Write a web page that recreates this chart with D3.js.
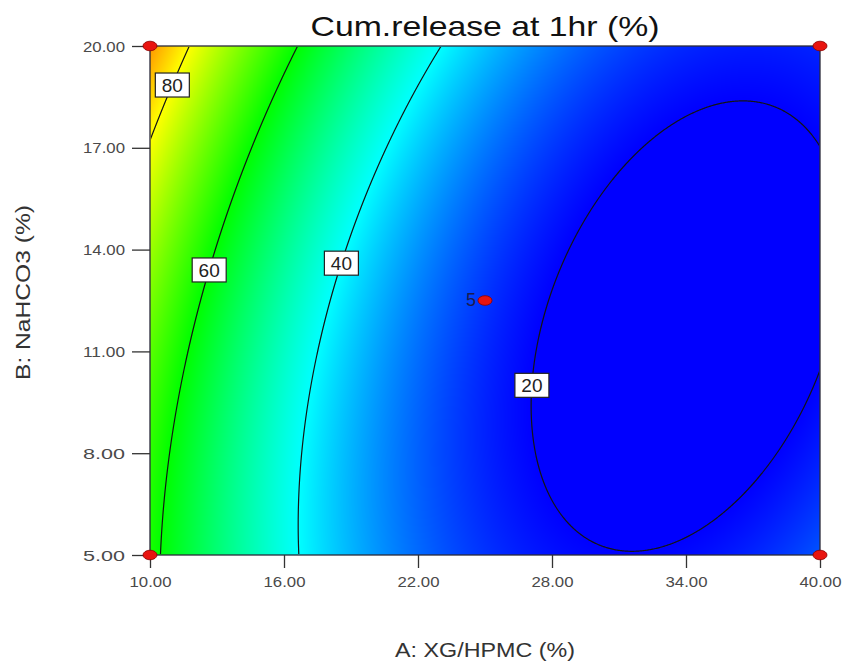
<!DOCTYPE html>
<html>
<head>
<meta charset="utf-8">
<script src="https://cdn.jsdelivr.net/npm/d3@7"></script>
<style>
  html, body { margin: 0; padding: 0; background: #fff; }
  svg { display: block; font-family: "Liberation Sans", Arial, sans-serif; }
</style>
</head>
<body>
<svg id="chart" width="843" height="664"></svg>
<script>
// Fitted quadratic response surface, coded factors (A, B in -1..+1)
const modelTerms = ["Intercept", "A", "B", "AB", "A^2", "B^2"];
const modelCoefficients = [24.05, -25.18, 5.70, -7.56, 20.20, 5.62];

// Factor ranges (actual units)
const factorARange = [10, 40];   // A: XG/HPMC (%)
const factorBRange = [5, 20];    // B: NaHCO3 (%)

// Axis ticks
const xTickValues = [10, 16, 22, 28, 34, 40];
const yTickValues = [5, 8, 11, 14, 17, 20];

// Contour levels and the B value where each level is labelled
const contourLevels = [20, 40, 60, 80];
const contourLabelB = [10.0, 13.6, 13.4, 18.85];

// Design points (A, B) and replicate counts
const designA = [10, 10, 40, 40, 25];
const designB = [5, 20, 5, 20, 12.5];
const designRuns = [1, 1, 1, 1, 5];

const titleText = "Cum.release at 1hr (%)";
const xTitle = "A: XG/HPMC (%)";
const yTitle = "B: NaHCO3 (%)";

// ---------------------------------------------------------------
const svg = d3.select("#chart");
const plotL = 150, plotR = 820, plotT = 46, plotB = 555;
const W = plotR - plotL, H = plotB - plotT;

const x = d3.scaleLinear().domain(factorARange).range([plotL, plotR]);
const y = d3.scaleLinear().domain(factorBRange).range([plotB, plotT]);

const codeA = v => (v - (factorARange[0] + factorARange[1]) / 2) / ((factorARange[1] - factorARange[0]) / 2);
const codeB = v => (v - (factorBRange[0] + factorBRange[1]) / 2) / ((factorBRange[1] - factorBRange[0]) / 2);

function response(A, B) {
  const a = codeA(A), b = codeB(B);
  const c = modelCoefficients;
  return c[0] + c[1] * a + c[2] * b + c[3] * a * b + c[4] * a * a + c[5] * b * b;
}

// colour ramp: blue -> cyan -> green -> yellow -> red
const color = d3.scaleLinear()
  .domain([20, 40, 60, 80, 100])
  .range(["#0000ff", "#00ffff", "#00ff00", "#ffff00", "#ff0000"])
  .clamp(true);

// sample grid at pixel centres
const values = new Float64Array(W * H);
for (let j = 0; j < H; j++) {
  const B = y.invert(plotT + j + 0.5);
  for (let i = 0; i < W; i++) {
    values[j * W + i] = response(x.invert(plotL + i + 0.5), B);
  }
}

// filled colour field
const canvas = document.createElement("canvas");
canvas.width = W; canvas.height = H;
const ctx = canvas.getContext("2d");
const img = ctx.createImageData(W, H);
for (let k = 0; k < values.length; k++) {
  const c = d3.rgb(color(values[k]));
  img.data[4 * k] = c.r; img.data[4 * k + 1] = c.g; img.data[4 * k + 2] = c.b; img.data[4 * k + 3] = 255;
}
ctx.putImageData(img, 0, 0);
svg.append("image")
  .attr("x", plotL).attr("y", plotT).attr("width", W).attr("height", H)
  .attr("href", canvas.toDataURL());

// contour lines
const defs = svg.append("defs");
defs.append("clipPath").attr("id", "inner")
  .append("rect").attr("x", plotL + 1).attr("y", plotT + 1).attr("width", W - 2).attr("height", H - 2);

const contours = d3.contours().size([W, H]).thresholds(contourLevels)(values);
const path = d3.geoPath(d3.geoIdentity().translate([plotL, plotT]));
svg.append("g").attr("clip-path", "url(#inner)")
  .selectAll("path").data(contours).join("path")
  .attr("d", path)
  .attr("fill", "none")
  .attr("stroke", "#141414")
  .attr("stroke-width", 1.2);

// frame
svg.append("rect")
  .attr("x", plotL).attr("y", plotT).attr("width", W).attr("height", H)
  .attr("fill", "none").attr("stroke", "#2a2a3a").attr("stroke-width", 1.3);

// axes
const xAxis = d3.axisBottom(x).tickValues(xTickValues).tickFormat(d3.format(".2f")).tickSize(13).tickSizeOuter(0);
const yAxis = d3.axisLeft(y).tickValues(yTickValues).tickFormat(d3.format(".2f")).tickSize(18).tickSizeOuter(0);

const gx = svg.append("g").attr("transform", `translate(0,${plotB})`).call(xAxis);
const gy = svg.append("g").attr("transform", `translate(${plotL},0)`).call(yAxis);
[gx, gy].forEach(g => {
  g.select(".domain").remove();
  g.selectAll(".tick line").attr("stroke", "#333").attr("stroke-width", 1.3);
  g.selectAll(".tick text")
    .attr("fill", "#4a4a4a")
    .attr("font-family", "'Liberation Sans', Arial, sans-serif")
    .attr("font-size", 14)
    .attr("textLength", 42)
    .attr("lengthAdjust", "spacingAndGlyphs");
});
gx.selectAll(".tick text").attr("y", 22).attr("dy", "0.71em");
gy.selectAll(".tick text").attr("x", -25).attr("dy", "0.36em");

// contour labels placed on the line at the given B value
contourLevels.forEach((lev, idx) => {
  const B = contourLabelB[idx];
  // first crossing from the left where the response falls to the level
  let A = factorARange[0];
  while (A < factorARange[1] && response(A, B) > lev) A += 0.01;
  const px = x(A), py = y(B);
  const g = svg.append("g").attr("transform", `translate(${px},${py})`);
  g.append("rect").attr("x", -17).attr("y", -12).attr("width", 34).attr("height", 24)
    .attr("fill", "#fff").attr("stroke", "#222").attr("stroke-width", 1.2);
  g.append("text").attr("text-anchor", "middle").attr("dy", "0.36em")
    .attr("font-size", 19).attr("fill", "#222").text(lev);
});

// design points
designA.forEach((a, i) => {
  svg.append("ellipse")
    .attr("cx", x(a)).attr("cy", y(designB[i])).attr("rx", 7).attr("ry", 4.8)
    .attr("fill", "#e8140f").attr("stroke", "#8a0000").attr("stroke-width", 0.8);
  if (designRuns[i] > 1) {
    svg.append("text")
      .attr("x", x(a) - 9).attr("y", y(designB[i]) + 5)
      .attr("text-anchor", "end").attr("font-size", 18).attr("fill", "#1c1c50")
      .text(designRuns[i]);
  }
});

// titles
svg.append("text")
  .attr("x", (plotL + plotR) / 2).attr("y", 36)
  .attr("text-anchor", "middle").attr("font-size", 28).attr("fill", "#111")
  .attr("textLength", 349).attr("lengthAdjust", "spacingAndGlyphs")
  .text(titleText);

svg.append("text")
  .attr("x", (plotL + plotR) / 2).attr("y", 657)
  .attr("text-anchor", "middle").attr("font-size", 21).attr("fill", "#333")
  .attr("textLength", 180).attr("lengthAdjust", "spacingAndGlyphs")
  .text(xTitle);

svg.append("text")
  .attr("transform", `translate(30,${(plotT + plotB) / 2 - 8}) rotate(-90)`)
  .attr("text-anchor", "middle").attr("font-size", 21).attr("fill", "#333")
  .attr("textLength", 175).attr("lengthAdjust", "spacingAndGlyphs")
  .text(yTitle);
</script>
</body>
</html>
